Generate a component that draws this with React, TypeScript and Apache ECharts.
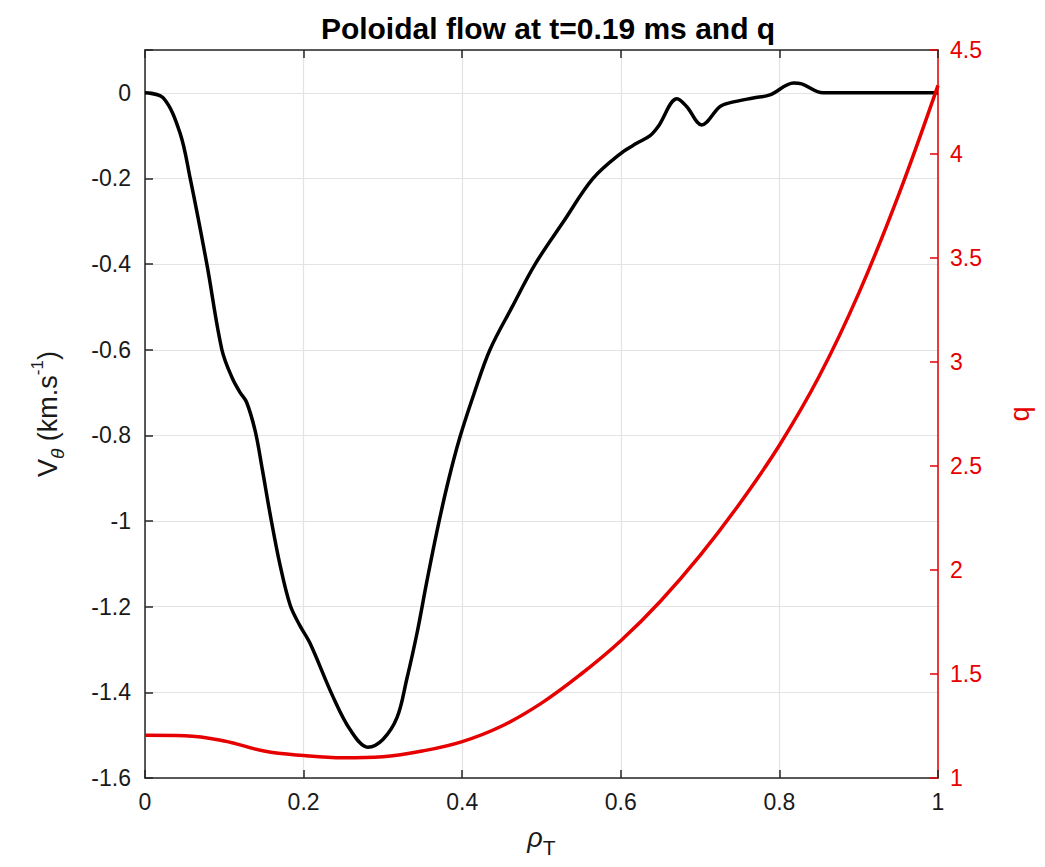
import React, { useEffect, useRef } from "react";
import * as echarts from "echarts";

const flowRho = [0, 0.023, 0.044, 0.057, 0.078, 0.097, 0.11, 0.12, 0.128, 0.139, 0.148, 0.158, 0.17, 0.183, 0.195, 0.208, 0.237, 0.259, 0.281, 0.3, 0.318, 0.33, 0.343, 0.355, 0.368, 0.382, 0.397, 0.415, 0.435, 0.463, 0.492, 0.528, 0.565, 0.601, 0.62, 0.637, 0.647, 0.671, 0.683, 0.702, 0.725, 0.738, 0.767, 0.788, 0.818, 0.828, 0.855, 0.9, 1.0];
const flowV = [0, -0.012, -0.093, -0.2, -0.4, -0.6, -0.666, -0.7, -0.722, -0.79, -0.88, -0.986, -1.1, -1.196, -1.243, -1.285, -1.41, -1.488, -1.528, -1.51, -1.458, -1.37, -1.262, -1.145, -1.025, -0.91, -0.805, -0.702, -0.6, -0.5, -0.4, -0.3, -0.2, -0.14, -0.118, -0.1, -0.079, -0.014, -0.032, -0.075, -0.032, -0.023, -0.012, -0.005, 0.023, 0.021, 0, 0, 0];

const qRho = [0, 0.05, 0.1, 0.15, 0.2, 0.25, 0.3, 0.35, 0.4, 0.45, 0.5, 0.55, 0.6, 0.65, 0.7, 0.75, 0.8, 0.85, 0.9, 0.95, 1.0];
const qVal = [1.205, 1.203, 1.178, 1.13, 1.108, 1.097, 1.102, 1.13, 1.175, 1.25, 1.36, 1.5, 1.66, 1.85, 2.07, 2.32, 2.6, 2.93, 3.33, 3.8, 4.33];

const xTicks = { min: 0, max: 1, interval: 0.2 };
const leftTicks = { min: -1.6, max: 0.1, interval: 0.2 };
const rightTicks = { min: 1, max: 4.5, interval: 0.5 };

const titleText = "Poloidal flow at t=0.19 ms and q";

export default function App() {
  const ref = useRef<HTMLDivElement>(null);
  useEffect(() => {
    if (!ref.current) return;
    const chart = echarts.init(ref.current, undefined, { renderer: "svg" });
    const font = "Liberation Sans, Arial, Helvetica, sans-serif";
    const labelColor = "#1a1a1a";
    const red = "#e60000";
    const fs = 23;
    const gridColor = "#e3e3e3";
    const fmt = (v: number) => {
      const r = Math.round(v * 100) / 100;
      return String(r);
    };
    chart.setOption({
      animation: false,
      backgroundColor: "#ffffff",
      textStyle: { fontFamily: font },
      title: {
        text: titleText,
        left: 543,
        textAlign: "center",
        top: 8,
        textStyle: { fontSize: 30, fontWeight: "bold", color: "#000", fontFamily: font },
      },
      grid: { left: 145, right: 107, top: 50, bottom: 89, containLabel: false },
      xAxis: [
        {
          type: "value",
          position: "bottom",
          min: xTicks.min,
          max: xTicks.max,
          interval: xTicks.interval,
          axisLine: { show: true, onZero: false, lineStyle: { color: "#262626", width: 1.5 } },
          axisTick: { show: true, inside: true, length: 8, lineStyle: { color: "#262626", width: 1.5 } },
          axisLabel: { fontSize: fs, color: labelColor, margin: 12, formatter: fmt, fontFamily: font },
          splitLine: { show: true, lineStyle: { color: gridColor, width: 1.2 } },
          name: "{r|ρ}{t|T}",
          nameLocation: "middle",
          nameGap: 46,
          nameTextStyle: {
            rich: {
              r: { fontSize: 27, fontStyle: "italic", color: labelColor, fontFamily: font, lineHeight: 34, verticalAlign: "top" },
              t: { fontSize: 21, color: labelColor, fontFamily: font, lineHeight: 34, verticalAlign: "bottom", padding: [16, 0, 0, 0] },
            },
          },
        },
        {
          type: "value",
          position: "top",
          min: xTicks.min,
          max: xTicks.max,
          interval: xTicks.interval,
          axisLine: { show: true, onZero: false, lineStyle: { color: "#262626", width: 1.5 } },
          axisTick: { show: true, inside: true, length: 8, lineStyle: { color: "#262626", width: 1.5 } },
          axisLabel: { show: false },
          splitLine: { show: false },
        },
      ],
      yAxis: [
        {
          type: "value",
          position: "left",
          min: leftTicks.min,
          max: leftTicks.max,
          interval: leftTicks.interval,
          axisLine: { show: true, onZero: false, lineStyle: { color: "#262626", width: 1.5 } },
          axisTick: { show: true, inside: true, length: 8, lineStyle: { color: "#262626", width: 1.5 } },
          axisLabel: {
            fontSize: fs,
            color: labelColor,
            margin: 14,
            fontFamily: font,
            formatter: (v: number) => (v > 0.05 ? "" : fmt(v)),
          },
          splitLine: { show: true, lineStyle: { color: gridColor, width: 1.2 } },
          name: "{a|V}{s|θ}{a| (km.s}{p|-1}{a|)}",
          nameLocation: "middle",
          nameRotate: 90,
          nameGap: 78,
          nameTextStyle: {
            rich: {
              a: { fontSize: 27, color: labelColor, fontFamily: font, lineHeight: 38, verticalAlign: "middle" },
              s: { fontSize: 19, fontStyle: "italic", color: labelColor, fontFamily: font, lineHeight: 38, verticalAlign: "bottom", padding: [16, 0, 0, 0] },
              p: { fontSize: 17, color: labelColor, fontFamily: font, lineHeight: 38, verticalAlign: "top", padding: [0, 0, 14, 0] },
            },
          },
        },
        {
          type: "value",
          position: "right",
          min: rightTicks.min,
          max: rightTicks.max,
          interval: rightTicks.interval,
          axisLine: { show: true, onZero: false, lineStyle: { color: red, width: 1.5 } },
          axisTick: { show: true, inside: true, length: 8, lineStyle: { color: red, width: 1.5 } },
          axisLabel: { fontSize: fs, color: red, margin: 12, fontFamily: font, formatter: fmt },
          splitLine: { show: false },
          name: "q",
          nameLocation: "middle",
          nameRotate: 90,
          nameGap: 68,
          nameTextStyle: { fontSize: 27, color: red, fontFamily: font },
        },
      ],
      series: [
        {
          type: "line",
          xAxisIndex: 0,
          yAxisIndex: 0,
          data: flowRho.map((x, i) => [x, flowV[i]]),
          showSymbol: false,
          smooth: 0.35,
          lineStyle: { color: "#000000", width: 3.5 },
          z: 3,
        },
        {
          type: "line",
          xAxisIndex: 0,
          yAxisIndex: 1,
          data: qRho.map((x, i) => [x, qVal[i]]),
          showSymbol: false,
          smooth: 0.4,
          lineStyle: { color: red, width: 3.5 },
          z: 4,
        },
      ],
    });
    return () => chart.dispose();
  }, []);
  return <div ref={ref} style={{ width: 1045, height: 867, position: "absolute", left: 0, top: 0 }} />;
}
